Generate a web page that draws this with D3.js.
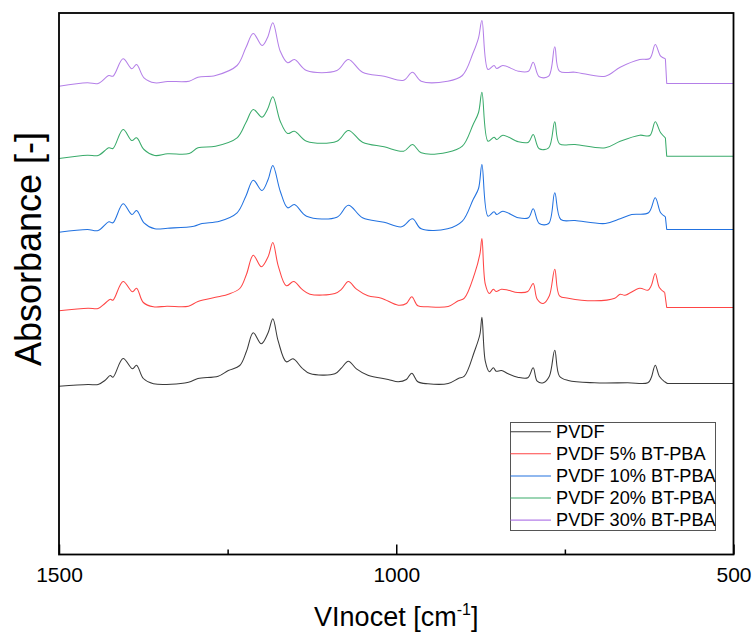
<!DOCTYPE html>
<html>
<head>
<meta charset="utf-8">
<script src="https://cdn.jsdelivr.net/npm/d3@7"></script>
<style>
  html, body { margin: 0; padding: 0; background: #fff; }
  svg { display: block; font-family: Arial, "Liberation Sans", sans-serif; }
</style>
</head>
<body>
<svg id="chart" width="755" height="638"></svg>
<script>
// ---- data (wavenumber [cm-1], absorbance offset-stacked, a.u.) ----
const seriesNames = ["PVDF", "PVDF 5% BT-PBA", "PVDF 10% BT-PBA", "PVDF 20% BT-PBA", "PVDF 30% BT-PBA"];
const seriesColors = ["#3a3a3a", "#ff4545", "#2272e0", "#3aab6b", "#b47fe8"];

const pvdf = [[1500,1.683],[1457,1.70],[1442,1.70],[1432,1.74],[1424,1.79],[1420,1.773],[1405,1.96],[1391,1.857],[1385,1.893],[1375,1.76],[1360,1.707],[1308,1.723],[1294,1.76],[1264,1.783],[1249,1.84],[1232,1.89],[1222,2.033],[1212,2.217],[1200,2.107],[1190,2.217],[1183,2.357],[1175,2.133],[1163,1.927],[1153,1.957],[1140,1.867],[1128,1.81],[1091,1.807],[1081,1.867],[1071,1.933],[1059,1.857],[1042,1.793],[1012,1.75],[997,1.727],[985,1.75],[977,1.813],[968,1.727],[953,1.707],[923,1.71],[908,1.76],[899,1.783],[884,2.033],[876,2.20],[873,2.373],[868,1.933],[862,1.827],[856,1.867],[852,1.833],[844,1.84],[834,1.807],[820,1.773],[805,1.767],[797,1.867],[791,1.733],[782,1.717],[773,1.783],[765,2.043],[758,1.783],[745,1.74],[706,1.717],[657,1.717],[627,1.717],[622,1.767],[616,1.893],[610,1.783],[602,1.727],[598,1.71],[500,1.71]];

const bt5 = [[1500,2.437],[1457,2.463],[1442,2.46],[1432,2.51],[1424,2.553],[1420,2.543],[1405,2.73],[1391,2.627],[1385,2.663],[1375,2.52],[1360,2.477],[1340,2.483],[1308,2.483],[1294,2.53],[1264,2.577],[1249,2.603],[1232,2.66],[1222,2.803],[1212,2.993],[1200,2.877],[1190,2.977],[1183,3.12],[1175,2.887],[1163,2.687],[1152,2.73],[1140,2.653],[1128,2.603],[1091,2.61],[1081,2.653],[1071,2.73],[1059,2.653],[1042,2.587],[1022,2.563],[997,2.493],[985,2.51],[977,2.577],[968,2.487],[953,2.477],[923,2.48],[908,2.537],[899,2.563],[884,2.803],[876,3.003],[873,3.16],[868,2.703],[862,2.61],[856,2.653],[852,2.63],[844,2.653],[834,2.643],[820,2.62],[805,2.63],[797,2.71],[791,2.553],[782,2.51],[773,2.587],[765,2.853],[758,2.587],[745,2.563],[706,2.537],[676,2.563],[668,2.603],[661,2.593],[639,2.663],[627,2.643],[622,2.687],[616,2.81],[610,2.67],[602,2.62],[599,2.47],[500,2.47]];

const bt10 = [[1500,3.223],[1458,3.25],[1442,3.24],[1426,3.327],[1420,3.317],[1405,3.507],[1392,3.40],[1385,3.44],[1374,3.317],[1358,3.257],[1339,3.263],[1300,3.283],[1288,3.31],[1262,3.333],[1236,3.417],[1223,3.583],[1212,3.743],[1199,3.64],[1190,3.75],[1183,3.89],[1172,3.633],[1161,3.467],[1151,3.50],[1133,3.383],[1088,3.373],[1071,3.493],[1050,3.367],[1018,3.323],[992,3.277],[976,3.357],[963,3.257],[924,3.257],[902,3.333],[886,3.55],[878,3.66],[873,3.90],[864,3.383],[855,3.427],[851,3.40],[842,3.433],[819,3.367],[804,3.367],[797,3.457],[788,3.31],[774,3.31],[765,3.617],[756,3.35],[735,3.34],[690,3.31],[668,3.357],[651,3.40],[626,3.417],[616,3.567],[608,3.417],[601,3.377],[599,3.25],[500,3.25]];

const bt20 = [[1500,3.96],[1458,3.993],[1442,3.99],[1426,4.067],[1420,4.06],[1405,4.25],[1392,4.14],[1385,4.167],[1374,4.05],[1358,3.99],[1339,4.007],[1307,4.01],[1294,4.067],[1268,4.083],[1236,4.167],[1223,4.317],[1212,4.45],[1199,4.373],[1191,4.45],[1183,4.577],[1172,4.333],[1161,4.21],[1151,4.233],[1133,4.133],[1088,4.133],[1071,4.24],[1050,4.123],[1018,4.077],[989,4.033],[976,4.10],[963,4.017],[924,4.023],[902,4.083],[886,4.30],[878,4.42],[873,4.623],[864,4.133],[855,4.173],[851,4.15],[842,4.193],[819,4.127],[804,4.123],[797,4.20],[788,4.057],[774,4.067],[765,4.327],[758,4.107],[735,4.10],[690,4.067],[668,4.133],[639,4.193],[624,4.19],[616,4.327],[608,4.217],[601,4.167],[599,3.983],[500,3.983]];

const bt30 = [[1500,4.683],[1458,4.717],[1442,4.71],[1426,4.79],[1420,4.783],[1405,4.957],[1392,4.857],[1385,4.90],[1374,4.767],[1358,4.717],[1339,4.73],[1307,4.733],[1294,4.773],[1268,4.79],[1236,4.89],[1223,5.067],[1212,5.21],[1199,5.09],[1191,5.167],[1183,5.317],[1172,5.033],[1161,4.917],[1151,4.95],[1133,4.84],[1088,4.84],[1071,4.95],[1050,4.823],[1018,4.783],[989,4.743],[976,4.823],[963,4.733],[924,4.733],[902,4.79],[886,5.017],[878,5.167],[873,5.34],[864,4.85],[855,4.89],[851,4.86],[842,4.89],[819,4.833],[804,4.833],[797,4.923],[788,4.777],[774,4.783],[765,5.077],[758,4.833],[735,4.823],[690,4.783],[668,4.873],[639,4.95],[624,4.96],[616,5.10],[608,4.983],[601,4.957],[599,4.71],[500,4.71]];

const seriesData = [pvdf, bt5, bt10, bt20, bt30];
const xMajorTicks = [1500, 1000, 500];
const xMinorTicks = [1250, 750];
const xTitle = "VInocet [cm";
const xTitleSup = "-1";
const yTitle = "Absorbance [-]";

// ---- layout ----
const svg = d3.select("#chart");
const L = 59, R = 733.5, T = 13, B = 554.5;
const x = d3.scaleLinear().domain([1500, 500]).range([L, R]);
const y = d3.scaleLinear().domain([0, 5.415]).range([B, T]);

// curves: smooth spectrum, then straight step + flat tail (last 3 points)
const smooth = d3.line()
  .x(d => x(d[0]))
  .y(d => y(d[1]))
  .curve(d3.curveCatmullRom.alpha(0.5));
const straight = d3.line()
  .x(d => x(d[0]))
  .y(d => y(d[1]));

const plot = svg.append("g");
seriesData.forEach((s, i) => {
  const n = s.length;
  const body = s.slice(0, n - 2);
  const tail = s.slice(n - 3);
  [[body, smooth], [tail, straight]].forEach(([pts, gen]) => {
    plot.append("path")
      .datum(pts)
      .attr("d", gen)
      .attr("fill", "none")
      .attr("stroke", seriesColors[i])
      .attr("stroke-width", 1.05)
      .attr("stroke-linejoin", "round");
  });
});

// frame
svg.append("rect")
  .attr("x", L).attr("y", T)
  .attr("width", R - L).attr("height", B - T)
  .attr("fill", "none").attr("stroke", "#000").attr("stroke-width", 1.8);

// bottom axis (inward ticks)
const axisMajor = d3.axisBottom(x).tickValues(xMajorTicks).tickSize(-10).tickPadding(13)
  .tickFormat(d3.format("d"));
const gx = svg.append("g").attr("transform", `translate(0,${B})`).call(axisMajor);
gx.select(".domain").remove();
gx.selectAll(".tick line").attr("stroke", "#000").attr("stroke-width", 1.5);
gx.selectAll(".tick text").attr("font-size", 21).attr("fill", "#000")
  .attr("font-family", "Arial, 'Liberation Sans', sans-serif");

const axisMinor = d3.axisBottom(x).tickValues(xMinorTicks).tickSize(-5).tickFormat("");
const gxm = svg.append("g").attr("transform", `translate(0,${B})`).call(axisMinor);
gxm.select(".domain").remove();
gxm.selectAll(".tick line").attr("stroke", "#000").attr("stroke-width", 1.5);

// axis titles
const xt = svg.append("text")
  .attr("x", (L + R) / 2 + 0).attr("y", 626)
  .attr("text-anchor", "middle")
  .attr("font-size", 27).attr("fill", "#000");
xt.append("tspan").text(xTitle);
xt.append("tspan").attr("font-size", 16).attr("dy", -11).text(xTitleSup);
xt.append("tspan").attr("dy", 11).text("]");

svg.append("text")
  .attr("transform", `translate(40.5,249) rotate(-90)`)
  .attr("text-anchor", "middle")
  .attr("font-size", 36).attr("fill", "#000")
  .text(yTitle);

// legend
const lg = svg.append("g");
const lx = 510.5, ly = 422.5, lw = 205, lh = 108;
lg.append("rect").attr("x", lx).attr("y", ly).attr("width", lw).attr("height", lh)
  .attr("fill", "#fff").attr("stroke", "#555").attr("stroke-width", 1);
seriesNames.forEach((n, i) => {
  const cy = 431.7 + i * 22.1;
  lg.append("line").attr("x1", lx).attr("x2", 551).attr("y1", cy).attr("y2", cy)
    .attr("stroke", seriesColors[i]).attr("stroke-width", 1.05);
  lg.append("text").attr("x", 556).attr("y", cy).attr("dy", "0.35em")
    .attr("font-size", 18.2).attr("fill", "#000").text(n);
});
</script>
</body>
</html>
